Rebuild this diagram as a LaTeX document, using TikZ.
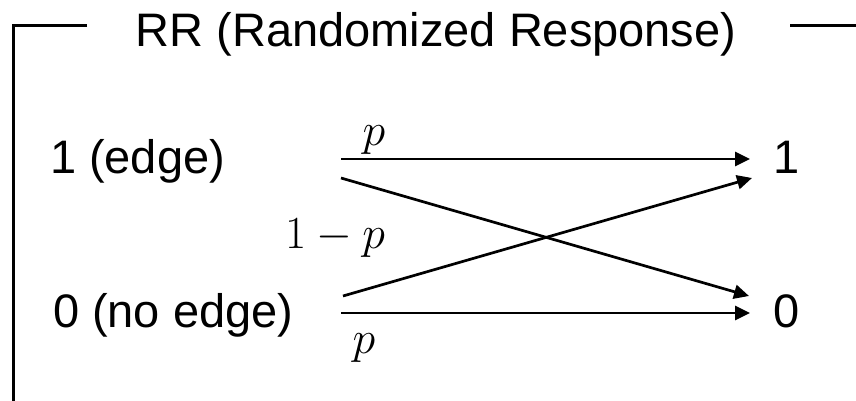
\RequirePackage{fix-cm}
\documentclass[tikz,border=0pt]{standalone}
\usepackage{fontspec}
\newfontfamily\arialfont{Liberation Sans}
\usetikzlibrary{arrows.meta}
\tikzset{
  frameline/.style={line width=3pt, line cap=butt},
  lbl/.style={inner sep=0pt, outer sep=0pt, font=\arialfont\fontsize{47}{56}\selectfont},
  mlbl/.style={inner sep=0pt, outer sep=0pt, font=\fontsize{46}{55}\selectfont},
  conn/.style={line width=2.7pt, -{Triangle[length=15pt,width=14pt]}},
}
\begin{document}
\begin{tikzpicture}[x=1pt,y=1pt]
\clip (0,0) rectangle (856,-401);
\useasboundingbox (0,0) rectangle (856,-401);
% frame
\draw[frameline] (87,-26) -- (13,-26) -- (13,-410);
\draw[frameline] (790,-26) -- (862,-26);
% title
\node[lbl, anchor=base] (title) at (436,-47) {RR (Randomized Response)};
% labels
\node[lbl, anchor=base west] (in1) at (50,-173) {1 (edge)};
\node[lbl, anchor=base west] (in0) at (53,-327) {0 (no edge)};
\node[lbl, anchor=base west] (out1) at (773,-173) {1};
\node[lbl, anchor=base west] (out0) at (773,-327) {0};
% connector endpoints
\coordinate (a1) at (341,-159);
\coordinate (b1) at (750,-159);
\coordinate (a2) at (341,-178);
\coordinate (b2) at (749,-296);
\coordinate (a3) at (343,-296);
\coordinate (b3) at (752,-178);
\coordinate (a4) at (341,-313);
\coordinate (b4) at (750,-313);
\draw[conn] (a1) -- (b1);
\draw[conn] (a2) -- (b2);
\draw[conn] (a3) -- (b3);
\draw[conn] (a4) -- (b4);
% probabilities
\node[mlbl, anchor=base] (ptop) at (374,-146) {$p$};
\node[mlbl, anchor=base] (pmid) at (335,-248) {$1-p$};
\node[mlbl, anchor=base] (pbot) at (364,-353) {$p$};
\end{tikzpicture}
\end{document}
